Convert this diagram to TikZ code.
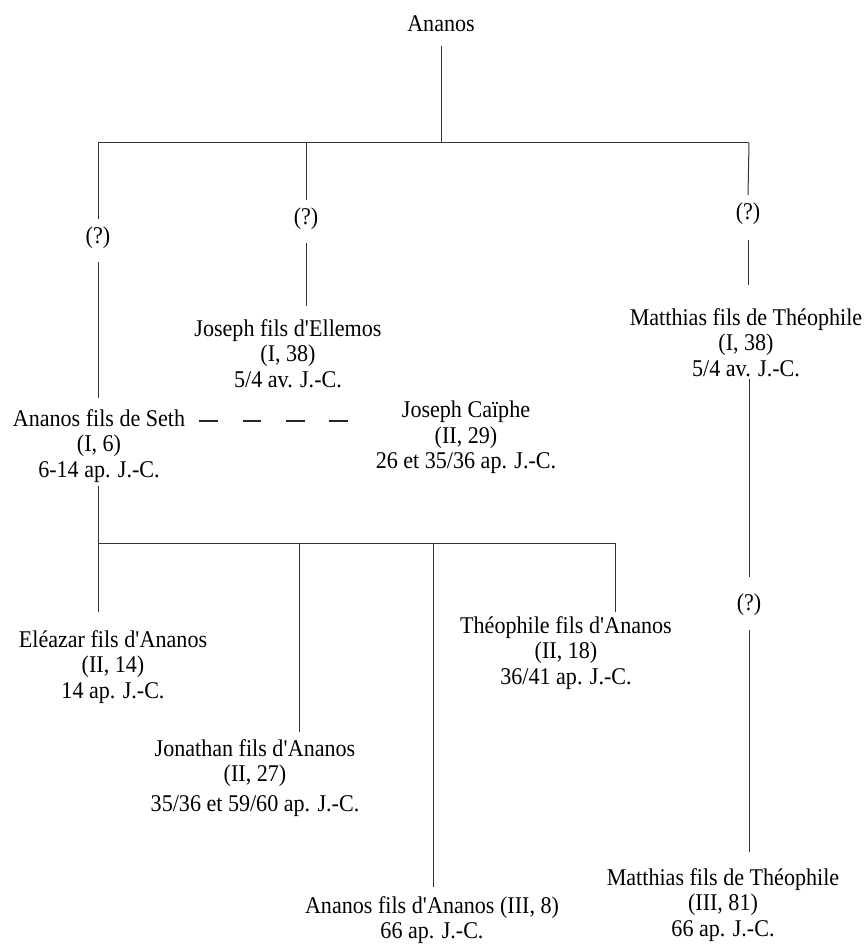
\documentclass[tikz,border=0pt]{standalone}
\usepackage{fontspec}
\setmainfont{Liberation Serif}[FakeStretch=0.92]
\newcommand{\sq}{\textquotesingle}
\begin{document}
\begin{tikzpicture}[x=0.75pt,y=-0.75pt,
  every node/.style={font=\fontsize{18}{19.1}\selectfont, align=center, inner sep=0pt},
  person/.style={anchor=north},
  qmark/.style={anchor=center, inner ysep=6pt},
  link/.style={draw=black!80, line width=0.75pt},
  marriage/.style={draw=black!85, line width=1.1pt, dash pattern=on 14pt off 18.5pt}]
\useasboundingbox (0,0) rectangle (867,944);

% nodes
\node (ananos) at (441,24) {Ananos};
\node[qmark] (q1) at (98,238) {(?)};
\node[qmark] (q2) at (306,219) {(?)};
\node[qmark] (q3) at (748,214) {(?)};
\node[person] (ellemos) at (288,319) {Joseph fils d\sq Ellemos\\(I, 38)\\5/4 av. J.-C.};
\node[person] (matthias1) at (746,308) {Matthias fils de Théophile\\(I, 38)\\5/4 av. J.-C.};
\node[person] (seth) at (99,409) {Ananos fils de Seth\\(I, 6)\\6-14 ap. J.-C.};
\node[person] (caiphe) at (466,401) {Joseph Caïphe\\(II, 29)\\26 et 35/36 ap. J.-C.};
\node[qmark] (q4) at (749,605) {(?)};
\node[person] (eleazar) at (113,630) {Eléazar fils d\sq Ananos\\(II, 14)\\14 ap. J.-C.};
\node[person] (theophile) at (566,616) {Théophile fils d\sq Ananos\\(II, 18)\\36/41 ap. J.-C.};
\node[person] (jonathan) at (255,739) {Jonathan fils d\sq Ananos\\(II, 27)\\[3pt]35/36 et 59/60 ap. J.-C.};
\node[person] (ananos3) at (432,896) {Ananos fils d\sq Ananos (III, 8)\\66 ap. J.-C.};
\node[person] (matthias2) at (723,868) {Matthias fils de Théophile\\(III, 81)\\66 ap. J.-C.};

% junctions
\coordinate (barL) at (98,143);
\coordinate (barR) at (749,143);
\coordinate (bar2L) at (98,543);
\coordinate (bar2R) at (615,543);
\coordinate (j2) at (299,543);
\coordinate (j3) at (433,543);

% first generation
\draw[link, shorten <=10.5pt] (ananos.south) -- (ananos.south |- barL);
\draw[link] (barL) -- (barR);
\draw[link] (barL) -- (q1.north);
\draw[link] (barL -| q2) -- (q2.north);
\draw[link] (barR) -- (q3.north);
\draw[link, shorten <=4pt, shorten >=8pt] (q1.south) -- (q1.south |- seth.north);
\draw[link, shorten <=4pt, shorten >=10pt] (q2.south) -- (q2.south |- ellemos.north);
\draw[link, shorten <=5pt, shorten >=17pt] (q3.south) -- (q3.south |- matthias1.north);
\draw[link, shorten <=2pt, shorten >=7pt] (matthias1.south -| q4) -- (q4.north);
\draw[link, shorten <=4.5pt, shorten >=12pt] (q4.south) -- (q4.south |- matthias2.north);

% marriage
\coordinate (dashstart) at ([shift={(14,12)}]seth.north east);
\draw[marriage, shorten >=16.5pt] (dashstart) -- (dashstart -| caiphe.west);

% second generation
\draw[link, shorten <=3pt] (bar2L |- seth.south) -- (bar2L);
\draw[link] (bar2L) -- (bar2R);
\draw[link, shorten >=13.5pt] (bar2L) -- (bar2L |- eleazar.north);
\draw[link, shorten >=5pt] (j2) -- (j2 |- jonathan.north);
\draw[link, shorten >=7pt] (j3) -- (j3 |- ananos3.north);
\draw[link, shorten >=3pt] (bar2R) -- (bar2R |- theophile.north);
\end{tikzpicture}
\end{document}
